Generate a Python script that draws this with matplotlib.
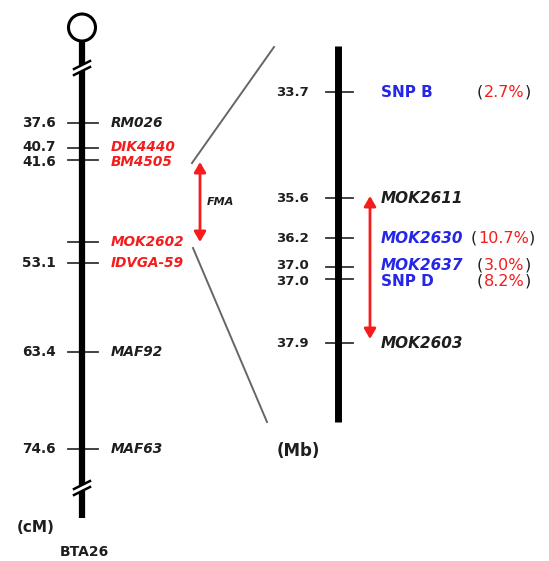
import matplotlib
matplotlib.use("Agg")
import matplotlib.pyplot as plt
from matplotlib.patches import Circle, FancyArrowPatch

# ---------------- data ----------------
cm_values = [37.6, 40.7, 41.6, 51.1, 53.1, 63.4, 74.6]
cm_show = [True, True, True, False, True, True, True]
cm_markers = ["RM026", "DIK4440", "BM4505", "MOK2602", "IDVGA-59", "MAF92", "MAF63"]
cm_colors = ["k", "r", "r", "r", "r", "k", "k"]

mb_values = [33.7, 35.6, 36.2, 37.0, 37.0, 37.9]
mb_markers = ["SNP B", "MOK2611", "MOK2630", "MOK2637", "SNP D", "MOK2603"]
mb_colors = ["b", "k", "b", "b", "b", "k"]
mb_italic = [False, True, True, True, False, True]
mb_pct = ["2.7%", "", "10.7%", "3.0%", "8.2%", ""]

# layout rows (maps are drawn not-to-scale)
cm_rows = [123, 148, 160, 242, 263, 352, 449]
cm_text_shift = [0, -1.5, 1.5, 0, 0, 0, 0]
mb_rows = [92, 198, 238, 267, 279, 343]
mb_text_shift = [0, 0, 0, -2, 2, 0]

RED = "#f41c1c"
BLUE = "#2626e6"
BLK = "#1e1e1e"
cmap = {"r": RED, "b": BLUE, "k": BLK}

W, H = 549, 561
fig = plt.figure(figsize=(W / 100, H / 100), dpi=100)
ax = fig.add_axes([0, 0, 1, 1])
ax.set_xlim(0, W)
ax.set_ylim(H, 0)
ax.axis("off")

FONT = "DejaVu Sans"

# ---------- left linkage map ----------
XL = 82
ax.plot([XL, XL], [42, 518], color="black", lw=4.5, solid_capstyle="butt", zorder=2)
ax.add_patch(Circle((XL, 27.5), 13.5, fill=True, facecolor="white", edgecolor="black", lw=2.2, zorder=3))
for yb in (68, 488):
    ax.add_patch(plt.Rectangle((XL - 6, yb - 3), 12, 6, facecolor="white", edgecolor="none", zorder=3))
    for dy in (-3, 3):
        ax.plot([XL - 8, XL + 8], [yb + dy + 4, yb + dy - 4], color="black", lw=1.8, zorder=4)

for v, show, mk, c, y, sh in zip(cm_values, cm_show, cm_markers, cm_colors, cm_rows, cm_text_shift):
    ax.plot([68, 98], [y, y], color="#333333", lw=1.3, zorder=1)
    ty = y + sh
    if show:
        ax.text(56, ty, f"{v:.1f}", ha="right", va="center", fontsize=9.8, fontweight="bold",
                family=FONT, color=BLK)
    ax.text(111, ty, mk, ha="left", va="center", fontsize=9.8, fontweight="bold",
            style="italic", family=FONT, color=cmap[c])

ax.text(36, 527, "(cM)", ha="center", va="center", fontsize=11, fontweight="bold",
        family=FONT, color=BLK)
ax.text(84, 552, "BTA26", ha="center", va="center", fontsize=10, fontweight="bold",
        family=FONT, color=BLK)

# FMA arrow
ax.add_patch(FancyArrowPatch((200, 162), (200, 242),
                             arrowstyle="<|-|>,head_length=6,head_width=3.5",
                             color=RED, lw=2, zorder=5, shrinkA=0, shrinkB=0))
ax.text(207, 202, "FMA", ha="left", va="center", fontsize=8, fontweight="bold",
        style="italic", family=FONT, color=BLK)

# zoom lines
ax.plot([192, 274], [163, 47], color="#666666", lw=1.4)
ax.plot([193, 267], [248, 422], color="#666666", lw=1.4)

# ---------- right physical map ----------
XR = 338
ax.plot([XR, XR], [46, 422], color="black", lw=5, solid_capstyle="butt", zorder=2)

fig.canvas.draw()
renderer = fig.canvas.get_renderer()

for v, mk, c, it, pct, y, sh in zip(mb_values, mb_markers, mb_colors, mb_italic,
                                     mb_pct, mb_rows, mb_text_shift):
    ax.plot([326, 353], [y, y], color="#333333", lw=1.3, zorder=1)
    ty = y + sh
    ax.text(309, ty, f"{v:.1f}", ha="right", va="center", fontsize=9.5, fontweight="bold",
            family=FONT, color=BLK)
    ax.text(381, ty, mk, ha="left", va="center", fontsize=11, fontweight="bold",
            style="italic" if it else "normal", family=FONT, color=cmap[c])
    if pct:
        x0 = 471 if len(pct) > 4 else 477
        t1 = ax.text(x0, ty, "(", ha="left", va="center", fontsize=11.5,
                     family=FONT, color=BLK)
        bb = t1.get_window_extent(renderer)
        x1 = x0 + bb.width + 0.5
        t2 = ax.text(x1, ty, pct, ha="left", va="center", fontsize=11.5,
                     family=FONT, color=RED)
        bb2 = t2.get_window_extent(renderer)
        ax.text(x1 + bb2.width + 0.5, ty, ")", ha="left", va="center", fontsize=11.5,
                family=FONT, color=BLK)

ax.add_patch(FancyArrowPatch((370, 196), (370, 339),
                             arrowstyle="<|-|>,head_length=6,head_width=3.5",
                             color=RED, lw=2, zorder=5, shrinkA=0, shrinkB=0))

ax.text(298, 451, "(Mb)", ha="center", va="center", fontsize=12, fontweight="bold",
        family=FONT, color=BLK)

fig.savefig("out.png", dpi=100)
